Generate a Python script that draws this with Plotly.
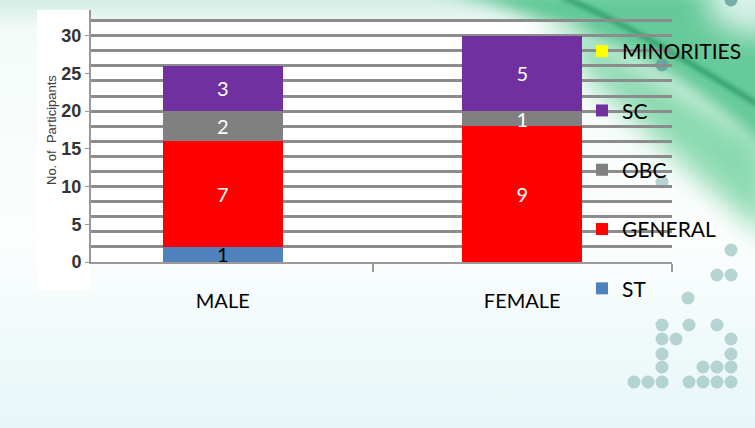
import base64
import plotly.graph_objects as go

# ---- data ----
categories = ["MALE", "FEMALE"]
st = [1, 0]
general = [7, 9]
obc = [2, 1]
sc = [3, 5]
minorities = [0, 0]
y_tick_labels = ["0", "5", "10", "15", "20", "25", "30"]

series = [
    ("ST", st, "#4f81bd", "black"),
    ("GENERAL", general, "#ff0000", "white"),
    ("OBC", obc, "#808080", "white"),
    ("SC", sc, "#7030a0", "white"),
    ("MINORITIES", minorities, "#ffff00", "black"),
]

W, H = 755, 428
L, R, T, B = 91, 83, 10, 166
PW, PH = W - L - R, H - T - B

# ---- decorative background (slide theme) ----
dots = [(731, 250), (717, 275), (731, 275), (688, 298), (662, 325), (689, 325), (717, 325),
        (662, 339), (676, 339), (731, 339), (662, 354), (731, 354), (662, 367), (703, 367),
        (717, 367), (731, 367), (634, 382), (648, 382), (662, 382), (689, 382), (703, 382),
        (717, 382), (731, 382), (662, 182)]
dark_dots = [(662, 65), (731, 0)]
circ = "".join(f"<circle cx='{x}' cy='{y}' r='6.5' fill='#a9cdca' opacity='0.85'/>" for x, y in dots)
circ += "".join(f"<circle cx='{x}' cy='{y}' r='6.5' fill='#5f9e98' opacity='0.8'/>" for x, y in dark_dots)
svg = f"""<svg xmlns='http://www.w3.org/2000/svg' width='{W}' height='{H}' viewBox='0 0 {W} {H}'>
<defs>
<linearGradient id='bg' x1='0' y1='0' x2='0' y2='1'>
<stop offset='0' stop-color='#d3ede4'/><stop offset='0.07' stop-color='#f3fbf9'/>
<stop offset='0.55' stop-color='#fdfefe'/><stop offset='1' stop-color='#e6f6f7'/></linearGradient>
<linearGradient id='wf' gradientUnits='userSpaceOnUse' x1='520' y1='0' x2='595' y2='0'>
<stop offset='0' stop-color='#ffffff' stop-opacity='1'/><stop offset='1' stop-color='#ffffff' stop-opacity='0'/></linearGradient>
<filter id='b' x='-30%' y='-30%' width='160%' height='160%'><feGaussianBlur stdDeviation='7'/></filter>
<filter id='b2' x='-30%' y='-30%' width='160%' height='160%'><feGaussianBlur stdDeviation='14'/></filter>
<filter id='b3' x='-30%' y='-30%' width='160%' height='160%'><feGaussianBlur stdDeviation='2'/></filter>
</defs>
<rect width='{W}' height='{H}' fill='url(#bg)'/>
<path d='M 500 -8 C 610 40 690 100 770 140 L 770 240 C 690 170 610 100 500 -8 Z' fill='#7fd6a8' opacity='0.9' filter='url(#b2)'/>
<path d='M 440 -8 C 590 20 680 70 770 150 L 770 -8 Z' fill='#4fc28a' opacity='0.85' filter='url(#b)'/>
<ellipse cx='760' cy='0' rx='55' ry='35' fill='#eaf8f6' opacity='0.85' filter='url(#b2)'/>
<path d='M 560 -4 C 620 20 690 62 770 112' stroke='#1f8f57' stroke-width='5' fill='none' opacity='0.7' filter='url(#b3)'/>
<rect x='37' y='10' width='54' height='280' fill='#ffffff'/>
<rect x='91' y='21' width='590' height='241' fill='url(#wf)'/>
{circ}
</svg>"""
src = "data:image/svg+xml;base64," + base64.b64encode(svg.encode()).decode()

fig = go.Figure()
for rank, (name, vals, color, tcolor) in enumerate(series):
    fig.add_trace(go.Bar(
        name=name, x=categories, y=vals,
        marker=dict(color=color, line=dict(width=0)),
        text=[str(v) if v else "" for v in vals],
        textposition="inside", insidetextanchor="middle", constraintext="none", textangle=0,
        textfont=dict(family="Lato, Open Sans, sans-serif", size=20, color=tcolor),
        legendgroup=name, legendrank=len(series) - rank, width=0.4, hoverinfo="name+y",
    ))

fig.update_layout(
    template="none",
    width=W, height=H,
    margin=dict(l=L, r=R, t=T, b=B, autoexpand=False),
    barmode="stack",
    paper_bgcolor="white",
    plot_bgcolor="rgba(0,0,0,0)",
    showlegend=True,
    legend=dict(
        traceorder="grouped", tracegroupgap=29,
        x=(582 - L) / PW, xanchor="left",
        y=(H - B - 31) / PH, yanchor="top",
        bgcolor="rgba(0,0,0,0)", itemwidth=30, maxheight=420,
        font=dict(family="Lato, Open Sans, sans-serif", size=21, color="black"),
    ),
    images=[dict(source=src, xref="paper", yref="paper",
                 x=-L / PW, y=1 + T / PH, sizex=W / PW, sizey=H / PH,
                 xanchor="left", yanchor="top", sizing="stretch", layer="below")],
    annotations=[dict(
        text="No. of  Participants", textangle=-90,
        xref="paper", yref="paper",
        x=(51 - L) / PW, y=(H - B - 130) / PH, xanchor="center", yanchor="middle",
        showarrow=False,
        font=dict(family="Liberation Sans, Arial, sans-serif", size=13, color="#404040"),
    )],
    xaxis=dict(
        type="category", range=[-0.44, 1.50], automargin=False,
        showline=True, linecolor="#9a9a9a", linewidth=2,
        ticks="outside", tickson="boundaries", ticklen=8, tickwidth=2, tickcolor="#9a9a9a",
        ticklabelstandoff=20, showgrid=False,
        tickfont=dict(family="Lato, Open Sans, sans-serif", size=20, color="black"),
    ),
    yaxis=dict(
        range=[0, 16.7], automargin=False,
        showgrid=False, zeroline=False,
        showline=True, linecolor="#9a9a9a", linewidth=2,
        tickmode="array",
        tickvals=[int(t) / 2 for t in y_tick_labels],
        ticktext=y_tick_labels,
        ticks="outside", ticklen=4, tickcolor="#9a9a9a", tickwidth=1,
        tickfont=dict(family="Liberation Sans Narrow, Liberation Sans, Arial, sans-serif",
                      size=18, color="#333333", weight="bold"),
        minor=dict(dtick=1, showgrid=True, gridcolor="#8c8c8c", gridwidth=2.5, ticks=""),
    ),
)

fig.write_html("out.html", config={"displayModeBar": False},
               post_script="document.body.style.margin='0px';")
